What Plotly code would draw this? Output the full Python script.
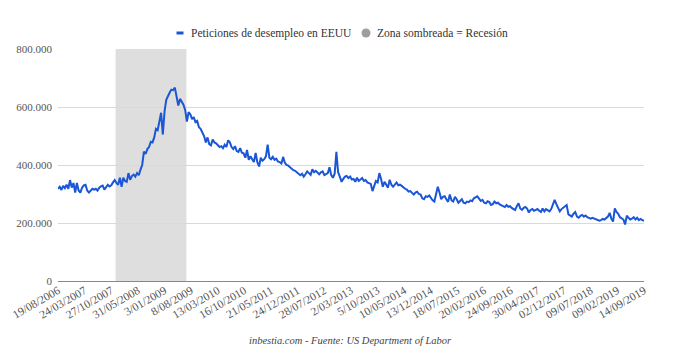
import plotly.graph_objects as go
import pandas as pd

# Biweekly initial jobless claims (thousands), from 19/08/2006 to 14/09/2019
claims_2006_2008 = [318, 325, 314, 328, 320, 332, 318, 348, 322, 338, 305, 338, 312,
                    305, 322, 330, 332, 312, 305, 312, 318, 315, 318, 312, 322, 326,
                    329, 315, 325, 332, 326, 330, 340, 348, 338, 332, 356, 325, 356,
                    345, 342, 372, 349, 362, 367, 360, 372, 365, 384, 400, 446]
claims_2008_2010 = [438, 455, 462, 480, 478, 495, 525, 520, 545, 580, 505, 585, 625,
                    640, 650, 660, 658, 667, 635, 605, 628, 618, 608, 590, 550, 582,
                    575, 558, 565, 548, 552, 530, 525, 512, 500, 478, 495, 472, 468,
                    488, 478, 475, 470, 462, 465, 458, 470, 462, 485, 478, 462, 455,
                    465, 448]
claims_2010_2012 = [445, 458, 442, 440, 425, 452, 418, 430, 420, 410, 442, 410, 395,
                    425, 415, 420, 430, 470, 425, 420, 428, 418, 422, 412, 410, 405,
                    428, 408, 400, 398, 392, 385, 382, 380, 375, 370, 365, 370, 360,
                    368, 378, 372, 366, 385, 375, 380, 372, 368, 375, 378, 365, 368,
                    372, 392, 365, 356, 370, 445, 375, 360, 342, 352, 360]
claims_2013_2015 = [362, 355, 360, 350, 352, 342, 356, 345, 350, 355, 345, 348, 340,
                    338, 335, 310, 330, 345, 340, 372, 352, 325, 342, 330, 322, 349,
                    332, 325, 335, 340, 330, 332, 328, 322, 318, 315, 308, 310, 302,
                    298, 305, 308, 300, 298, 285, 282, 292, 290, 295, 286, 278, 274,
                    300, 325, 305]
claims_2015_2017 = [282, 290, 292, 282, 273, 298, 278, 274, 290, 282, 270, 276, 282,
                    270, 268, 274, 272, 278, 275, 285, 288, 292, 284, 276, 280, 270,
                    268, 275, 272, 262, 265, 274, 268, 270, 264, 262, 258, 255, 262,
                    256, 258, 252, 248, 245, 258, 268, 250, 245, 252, 255, 250, 236,
                    245, 248, 242, 246]
claims_2017_2019 = [248, 242, 238, 250, 240, 248, 245, 240, 248, 262, 280, 265, 250,
                    240, 248, 253, 258, 262, 230, 225, 222, 232, 238, 222, 218, 225,
                    228, 222, 226, 220, 218, 215, 218, 216, 212, 210, 208, 210, 214,
                    212, 218, 222, 235, 215, 205, 250, 238, 232, 220, 215, 212, 195,
                    225, 218, 212, 215, 220, 212, 218, 210, 214, 210, 208]

claims_k = (claims_2006_2008 + claims_2008_2010 + claims_2010_2012 +
            claims_2013_2015 + claims_2015_2017 + claims_2017_2019)
claims = [v * 1000 for v in claims_k]
dates = pd.date_range("2006-08-19", periods=len(claims), freq="14D")

tick_labels = ["19/08/2006", "24/03/2007", "27/10/2007", "31/05/2008", "3/01/2009",
               "8/08/2009", "13/03/2010", "16/10/2010", "21/05/2011", "24/12/2011",
               "28/07/2012", "2/03/2013", "5/10/2013", "10/05/2014", "13/12/2014",
               "18/07/2015", "20/02/2016", "24/09/2016", "30/04/2017", "02/12/2017",
               "09/07/2018", "09/02/2019", "14/09/2019"]
tick_dates = [pd.to_datetime(t, format="%d/%m/%Y") for t in tick_labels]

series_name = "Peticiones de desempleo en EEUU"
shade_name = "Zona sombreada = Recesión"
recession_start = "2007-12-01"
recession_end = "2009-06-30"

FONT = "Times New Roman, Liberation Serif, serif"
BLUE = "#1a56d6"

W, H = 680, 362
ML, MR, MT, MB = 58, 36, 49, 81
PW, PH = W - ML - MR, H - MT - MB


def px(xp):
    return (xp - ML) / PW


def py(yp):
    return (H - MB - yp) / PH


fig = go.Figure()
fig.add_trace(go.Scatter(x=dates, y=claims, mode="lines", name=series_name,
                         line=dict(color=BLUE, width=2), showlegend=False))

shapes = [
    dict(type="rect", xref="x", yref="y", x0=recession_start, x1=recession_end,
         y0=0, y1=800000, fillcolor="#dedede", line=dict(width=0), layer="below"),
    # legend symbols
    dict(type="line", xref="paper", yref="paper", x0=px(176.5), x1=px(183.5),
         y0=py(33), y1=py(33), line=dict(color=BLUE, width=3)),
    dict(type="circle", xref="paper", yref="paper", x0=px(361.5), x1=px(370.5),
         y0=py(37.5), y1=py(28.5), fillcolor="#9e9e9e", line=dict(width=0)),
]

annotations = [
    dict(text=series_name, xref="paper", yref="paper", x=px(189), y=py(33),
         xanchor="left", yanchor="middle", showarrow=False,
         font=dict(family=FONT, size=11.5, color="#333")),
    dict(text=shade_name, xref="paper", yref="paper", x=px(375), y=py(33),
         xanchor="left", yanchor="middle", showarrow=False,
         font=dict(family=FONT, size=11.5, color="#333")),
    dict(text="<i>inbestia.com - Fuente: US Department of Labor</i>",
         xref="paper", yref="paper", x=px(350), y=py(340),
         xanchor="center", yanchor="middle", showarrow=False,
         font=dict(family=FONT, size=10.5, color="#444")),
]

fig.update_layout(
    width=W, height=H,
    margin=dict(l=ML, r=MR, t=MT, b=MB),
    paper_bgcolor="white", plot_bgcolor="white",
    font=dict(family=FONT, size=11, color="#444"),
    separators=",.",
    showlegend=False,
    shapes=shapes,
    annotations=annotations,
    xaxis=dict(type="date", range=[dates[0], dates[-1]], tickmode="array",
               tickvals=tick_dates, ticktext=tick_labels, tickangle=-30,
               showgrid=False, showline=False, zeroline=False, automargin=False,
               tickfont=dict(family=FONT, size=11.5, color="#555")),
    yaxis=dict(range=[0, 800000], tickvals=[0, 200000, 400000, 600000, 800000],
               tickformat=",d", showgrid=True, gridcolor="#d9d9d9", gridwidth=1,
               zeroline=True, zerolinecolor="#888", zerolinewidth=1, automargin=False,
               showline=False, ticklabelstandoff=5,
               tickfont=dict(family=FONT, size=11, color="#555")),
)

fig.write_html("out.html", config={"displayModeBar": False},
               post_script="document.body.style.margin='0';document.body.style.padding='0';")
